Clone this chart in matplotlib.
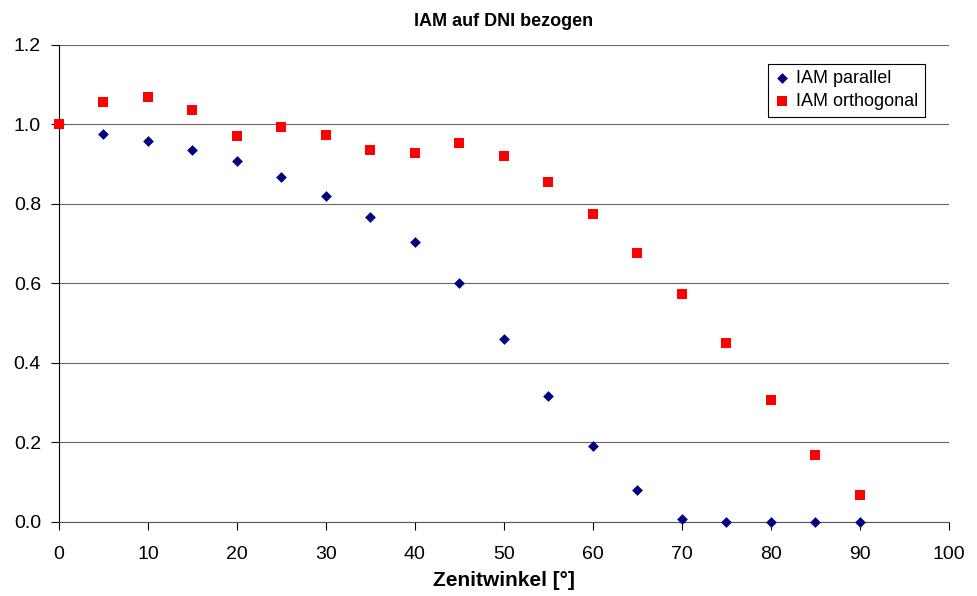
import matplotlib.pyplot as plt

plt.rcParams['font.family'] = ['Liberation Sans', 'DejaVu Sans']

# Zenitwinkel in Grad
winkel = [0, 5, 10, 15, 20, 25, 30, 35, 40, 45, 50, 55, 60, 65, 70, 75, 80, 85, 90]
iam_parallel = [1.0, 0.976, 0.958, 0.936, 0.908, 0.868, 0.820, 0.767, 0.704, 0.601,
                0.460, 0.317, 0.191, 0.080, 0.008, 0.0, 0.0, 0.0, 0.0]
iam_orthogonal = [1.0, 1.057, 1.069, 1.036, 0.971, 0.994, 0.974, 0.936, 0.928, 0.953,
                  0.921, 0.855, 0.775, 0.677, 0.574, 0.450, 0.307, 0.169, 0.068]

fig = plt.figure(figsize=(9.78, 5.96), dpi=100)
ax = fig.add_axes([0.0603, 0.1242, 0.9097, 0.8003])

ax.scatter(winkel, iam_parallel, marker='D', s=30, color='#000080', zorder=3,
           label='IAM parallel', linewidths=0, clip_on=False)
ax.scatter(winkel, iam_orthogonal, marker='s', s=50, color='#ff0000', zorder=3,
           label='IAM orthogonal', linewidths=0, clip_on=False)

ax.set_xlim(0, 100)
ax.set_ylim(0, 1.2)
ax.set_xticks(range(0, 101, 10))
ax.set_yticks([0.0, 0.2, 0.4, 0.6, 0.8, 1.0, 1.2])
ax.set_yticklabels(['0.0', '0.2', '0.4', '0.6', '0.8', '1.0', '1.2'])

ax.grid(axis='y', color='#000000', linewidth=0.8, alpha=0.6)
ax.set_axisbelow(True)
for s in ['top', 'right']:
    ax.spines[s].set_visible(False)
ax.spines['left'].set_color('black')
ax.spines['bottom'].set_color('#555555')
ax.tick_params(axis='both', direction='out', length=6, labelsize=14, colors='black')
ax.tick_params(axis='x', pad=11)
ax.tick_params(axis='y', pad=7)

ax.set_title('IAM auf DNI bezogen', fontsize=13, fontweight='bold', pad=14)
ax.set_xlabel('Zenitwinkel [°]', fontsize=15, fontweight='bold', labelpad=6)

leg = ax.legend(loc='upper right', bbox_to_anchor=(0.983, 0.98), fontsize=13,
                fancybox=False, edgecolor='black', framealpha=1,
                handletextpad=0.3, borderpad=0.35, labelspacing=0.35,
                handlelength=0.9, scatterpoints=1)
leg.get_frame().set_linewidth(0.8)

plt.savefig('out.png', dpi=100)
